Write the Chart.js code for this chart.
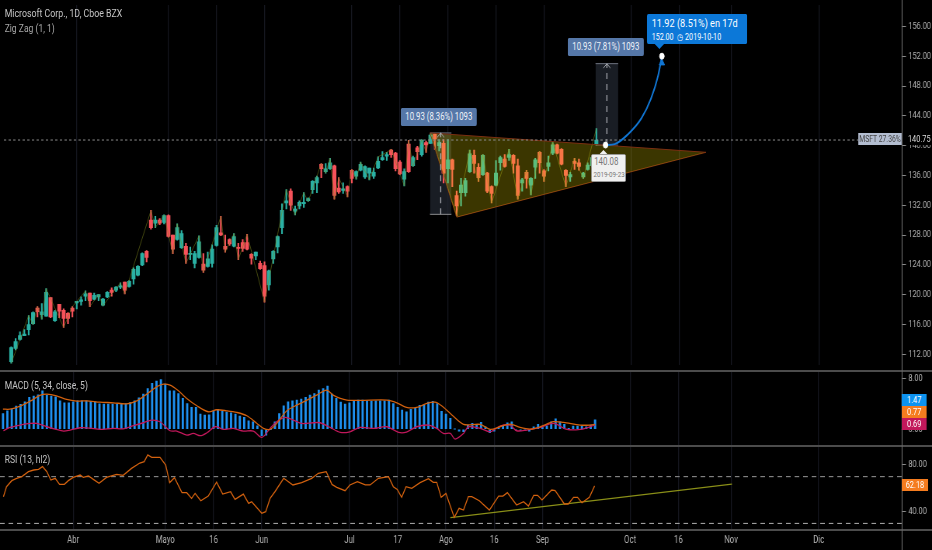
<!DOCTYPE html>
<html>
<head>
<meta charset="utf-8">
<script src="https://cdn.jsdelivr.net/npm/chart.js@4"></script>
<style>
html, body { margin: 0; padding: 0; background: #000; overflow: hidden; }
/* the reference is squeezed sideways, so the whole page is laid out 1200 wide and narrowed to 932 */
#page { position: relative; width: 1200px; height: 550px; background: #000; font-family: Roboto, sans-serif; transform: scaleX(0.7767); transform-origin: 0 0; }
canvas { position: absolute; left: 0; }
.sep { position: absolute; left: 0; width: 1200px; height: 2px; background: #4c4c4c; }
.lbl { position: absolute; white-space: nowrap; }
.legend { left: 6px; color: #c4c4c4; font-size: 11px; line-height: 14px; }
.tip { background: #5577a8; color: #eef2f8; font-size: 10px; line-height: 18px; height: 18px; text-align: center; border-radius: 2px; }
.side { left: 1161px; width: 32px; height: 12px; line-height: 12px; font-size: 9.5px; color: #fff; text-align: center; }
</style>
</head>
<body>
<div id="page">
  <canvas id="price" width="1200" height="370" style="top:0"></canvas>
  <canvas id="macd" width="1200" height="73" style="top:372px"></canvas>
  <canvas id="rsi" width="1200" height="103" style="top:447px"></canvas>
  <div class="sep" style="top:370px"></div>
  <div class="sep" style="top:445px"></div>
  <div class="sep" style="top:529px"></div>
  <div style="position:absolute;left:1161px;top:0;width:1.3px;height:550px;background:#6e6e6e"></div>

  <div class="lbl legend" style="top:7px;font-size:11.3px">Microsoft Corp., 1D, Cboe BZX</div>
  <div class="lbl legend" style="top:22px;color:#a8a8a8">Zig Zag (1, 1)</div>
  <div class="lbl legend" style="top:379px">MACD (5, 34, close, 5)</div>
  <div class="lbl legend" style="top:453px">RSI (13, hl2)</div>

  <div class="lbl tip" style="left:516px;top:108px;width:98px">10.93 (8.36%) 1093</div>
  <div class="lbl tip" style="left:731px;top:38px;width:98px">10.93 (7.81%) 1093</div>

  <div class="lbl" style="left:833px;top:14px;width:129px;height:30px;background:#0c78d8;color:#fff;border-radius:2px">
    <div style="font-size:11.8px;line-height:16px;margin:1px 0 0 6px">11.92 (8.51%) en 17d</div>
    <div style="font-size:9.2px;line-height:12px;margin-left:6px">152.00 &nbsp;◷ 2019-10-10</div>
  </div>
  <div class="lbl" style="left:843px;top:44px;width:0;height:0;border-left:6px solid transparent;border-right:6px solid transparent;border-top:5px solid #0c78d8"></div>

  <div class="lbl" style="left:761px;top:154px;width:43px;height:26px;background:#f0f0f0;border:1px solid #9a9a9a;border-radius:2px;color:#777">
    <div style="font-size:10.2px;line-height:14px;margin-left:3px">140.08</div>
    <div style="font-size:8px;line-height:11px;margin-left:2px">2019-09-23</div>
  </div>
  <div class="lbl" style="left:772px;top:150px;width:0;height:0;border-left:5px solid transparent;border-right:5px solid transparent;border-bottom:4px solid #f0f0f0"></div>

  <div class="lbl" style="left:1105px;top:133px;width:56px;height:12px;line-height:12px;background:#b3bdd0;color:#444;font-size:8.8px;text-align:center">MSFT 27.36%</div>
  <div class="lbl" style="left:1163px;top:133px;width:37px;height:12px;line-height:12px;background:#000;color:#ddd;font-size:9.5px;padding-left:6px;box-sizing:border-box">140.75</div>

  <div class="lbl side" style="top:394px;background:#0d93f0">1.47</div>
  <div class="lbl side" style="top:406px;background:#f57c1f">0.77</div>
  <div class="lbl side" style="top:418px;background:#c2185b">0.69</div>
  <div class="lbl side" style="top:479px;width:34px;background:#f57c1f">62.18</div>
</div>

<script>
// time axis, in bars
const xTickIndex = [16, 37, 48, 59, 79, 90, 101, 112, 123, 143, 154, 166, 186];
const xTickLabels = ['Abr', 'Mayo', '16', 'Jun', 'Jul', '17', 'Ago', '16', 'Sep', 'Oct', '16', 'Nov', 'Dic'];
const xMin = -0.68, xMax = 205;

// candles, first one sits on bar 1
const opens = [111.0,112.8,114.0,114.5,115.3,116.1,118.2,117.3,117.1,119.6,
  116.5,118.7,117.9,117.5,118.2,118.9,119.1,119.8,120.2,119.4,
  119.7,118.6,119.7,120.6,120.6,121.0,121.7,121.1,122.1,122.6,
  124.0,125.8,130.0,129.6,130.0,129.7,130.6,128.0,127.4,126.3,
  126.5,125.4,124.2,125.0,124.1,123.8,124.2,126.6,128.3,126.5,
  127.4,126.5,126.3,127.0,127.0,125.4,125.2,124.2,123.9,121.3,
  124.8,126.4,129.0,132.3,133.9,131.2,131.9,132.2,132.6,134.1,
  135.0,137.5,136.5,136.9,137.3,134.3,134.0,134.5,136.7,135.9,
  136.7,135.8,136.3,135.9,137.0,138.1,138.6,139.4,139.0,137.8,
  135.5,140.2,137.3,139.7,138.8,140.4,140.3,141.5,140.0,140.3,
  136.9,138.1,133.3,133.7,133.7,136.5,138.7,137.1,136.1,136.3,
  134.5,134.7,137.7,138.2,138.4,138.7,137.3,135.0,136.4,134.7,
  137.1,139.1,136.6,137.2,139.0,140.1,139.5,136.7,135.8,137.9,
  137.7,135.8,136.8,137.3,140.2];
const highs = [113.0,114.1,115.0,115.3,117.2,117.7,118.4,118.8,120.8,119.6,
  117.9,118.7,118.1,117.6,118.4,119.1,119.7,120.5,120.2,120.2,
  120.0,119.5,120.4,120.9,121.1,121.6,121.7,121.9,123.6,123.9,
  125.6,125.9,131.3,130.5,130.2,130.7,130.7,128.0,129.5,128.6,
  126.9,126.4,125.8,127.9,125.5,125.7,126.7,129.3,130.5,128.0,
  127.5,128.2,126.9,127.4,128.1,125.5,125.7,124.5,124.4,123.3,
  125.9,127.9,132.2,134.1,134.2,131.9,132.6,133.7,133.0,135.3,
  135.9,137.6,137.6,138.3,137.4,135.7,135.0,134.6,136.8,136.6,
  137.8,137.3,137.0,137.0,138.5,139.2,139.1,139.5,139.1,138.0,
  136.9,140.7,138.6,139.9,140.8,140.6,141.6,141.6,140.8,140.8,
  140.8,138.2,133.9,135.6,135.6,139.4,139.4,137.6,138.8,136.4,
  134.6,138.0,138.6,138.8,139.5,138.8,138.2,135.6,136.7,135.7,
  138.3,139.2,136.8,138.6,140.4,140.2,139.6,136.8,136.4,138.3,
  138.2,136.4,137.7,138.6,142.3];
const lows = [110.8,112.6,113.9,114.5,114.6,116.0,117.0,116.7,117.1,116.9,
  116.4,116.9,115.6,116.1,117.0,118.1,118.6,119.2,118.4,119.3,
  119.2,118.5,119.6,119.8,120.4,120.8,120.1,121.0,121.4,122.5,
  123.9,124.4,128.8,129.0,129.4,129.5,127.7,125.5,127.3,126.2,
  124.2,124.7,123.6,124.9,123.0,123.7,123.7,126.5,127.9,125.7,
  126.6,126.4,124.7,125.8,126.0,124.1,124.7,123.4,119.0,120.6,
  124.2,125.6,128.2,131.5,131.3,130.7,131.5,131.7,132.5,133.6,
  133.7,135.7,136.3,136.8,132.8,133.6,133.6,133.1,135.0,135.5,
  136.6,135.6,135.4,135.6,136.9,138.0,138.0,138.4,136.6,136.1,
  134.6,136.4,137.2,138.1,138.6,139.1,140.3,139.5,139.3,135.0,
  135.0,134.5,130.6,131.9,133.2,136.4,136.3,135.2,136.0,133.7,
  132.3,134.6,136.7,137.1,138.0,136.3,132.8,133.9,134.3,133.4,
  135.6,136.3,135.2,136.6,138.8,138.9,137.4,134.5,135.2,136.8,
  136.7,135.6,136.7,137.1,140.1];
const closes = [112.9,113.7,114.5,114.7,116.0,117.6,117.7,117.7,120.3,117.0,
  117.7,117.8,116.8,116.8,117.8,119.1,119.3,120.1,119.2,119.9,
  120.0,119.4,120.3,120.3,121.0,121.2,120.6,121.8,123.4,123.8,
  125.5,125.0,129.0,130.0,129.6,130.6,127.8,126.1,129.0,128.2,
  125.4,125.5,125.5,127.1,123.3,124.8,126.1,129.0,128.0,126.1,
  126.8,127.8,126.2,126.2,126.1,124.9,125.7,123.5,119.8,123.2,
  125.8,127.8,131.3,132.6,132.0,131.5,132.4,132.4,132.9,135.2,
  135.7,136.9,136.9,137.7,133.3,133.8,134.2,133.9,135.6,136.5,
  137.5,137.2,137.0,136.4,137.9,138.4,138.8,138.8,136.9,136.2,
  136.5,136.5,138.4,139.2,140.7,140.1,141.4,140.9,140.4,136.3,
  138.1,136.8,131.9,134.7,135.3,138.9,137.6,135.7,138.7,133.9,
  133.6,136.3,138.4,137.2,138.8,137.6,133.3,135.4,135.6,135.6,
  138.1,137.7,135.9,137.7,140.1,139.0,137.5,136.0,136.1,137.6,
  137.2,136.3,137.4,138.4,140.75];
const lastPrice = 140.75;
const priceTicks = [156, 152, 148, 144, 140, 136, 132, 128, 124, 120, 116, 112];

// zig zag pivots
const zigBars = [1,5,6,7,8,9,13,15,18,19,21,22,26,27,33,34,36,38,39,41,44,45,49,50,52,53,55,59,64,66,68,69,72,73,74,75,76,78,79,80,81,83,85,87,88,91,92,93,95,96,97,103,106,108,109,111,115,117,119,120,122,123,125,128,130,132,135];
const zigPrices = [110.8,117.2,116.0,118.4,116.7,120.8,115.6,118.4,120.5,118.4,120.0,118.5,121.6,120.1,131.3,129.0,130.7,125.5,129.5,124.2,127.9,123.0,130.5,125.7,128.2,124.7,128.1,119.0,134.1,130.7,133.7,132.5,137.6,136.3,138.3,132.8,135.7,133.1,136.8,135.5,137.8,135.4,138.5,139.1,139.5,134.6,140.7,137.2,140.8,139.1,141.6,130.6,139.4,135.2,138.8,132.3,139.5,132.8,136.7,133.4,139.2,135.2,140.4,134.5,138.3,135.6,142.3];

// drawings on the price pane
const triangleBars = [96.9, 103, 160.1];
const trianglePrices = [141.7, 130.4, 139.1];
const measureA = { from: 96.9, to: 101.8, top: 141.7, bottom: 130.8 };
const measureB = { from: 134.8, to: 140, top: 151, bottom: 140.08 };
const forecastBars = [137.1, 139.2, 142.2, 145.3, 147.5, 149.1, 150];
const forecastPrices = [140.08, 140.2, 141.5, 143.65, 146.3, 149.3, 152];

// MACD pane, histogram starts on bar 0
const macdHist = [2.48,2.90,3.16,3.64,3.90,4.32,5.0,5.2,5.42,6.04,5.36,5.2,5.1,4.47,4.16,4.16,4.32,4.47,4.47,4.47,
  4.37,4.32,4.0,3.95,3.95,3.95,3.95,3.95,4.05,4.21,4.47,4.94,5.52,6.41,7.2,7.56,7.82,7.09,6.04,6.04,
  5.62,4.84,4.05,3.43,3.43,2.38,2.22,2.27,2.9,3.11,2.8,2.69,2.59,2.38,2.07,1.86,1.33,1.18,0.55,-1.02,
  -0.92,-0.03,1.18,2.48,3.69,4.32,4.47,4.58,4.73,5.0,5.36,5.62,6.15,
  6.41,6.78,5.52,4.84,4.26,3.95,4.16,4.37,4.58,4.58,4.47,4.42,4.47,4.47,4.47,4.58,4.05,3.43,3.01,2.75,
  3.11,3.27,3.74,3.85,4.26,4.37,4.05,2.8,2.38,1.7,0.02,-0.29,-0.4,0.65,0.91,0.65,1.07,0.39,-0.55,-0.29,
  0.28,0.49,1.02,1.18,-0.13,-0.19,-0.24,-0.29,0.39,0.76,0.39,0.55,1.18,1.65,1.18,0.76,0.13,0.49,0.49,0.49,0.39,0.65,1.47];
const macdTicks = [8, 0];
const orangeBars = [0,1.6,3.9,6.2,8.4,10,12.2,14.5,16.8,19.1,22.1,25.2,28.2,30.5,32.8,35,36.6,38.1,40,41.9,44.2,46.8,48.7,51,53.3,55.6,57.9,59.4,60.9,62.4,64.7,67,69.3,71.5,
  73.8,75.3,76.9,78.4,81.4,87.5,89.8,92,94.3,96.6,98.5,100,102,105,108.8,111.1,113.3,115.6,117.9,120.2,122.5,125.5,127.8,131.6,133.9,135];
const orangeValues = [3.16,3.16,3.64,4.42,5.31,5.52,5.26,4.68,4.42,4.47,4.26,4.16,4.0,4.47,5.52,6.67,7.09,6.93,6.04,4.84,3.69,2.75,3.06,2.9,2.64,2.12,0.91,0.13,-0.03,0.91,2.9,3.79,4.58,5.36,
  6.15,5.36,4.84,4.58,4.53,4.58,4.16,3.43,3.43,4.05,4.26,3.69,2.48,0.76,0.76,-0.03,0.39,0.81,0.28,0.02,0.39,1.18,1.07,0.65,0.65,0.77];
const crimsonBars = [0.1,1.6,3.9,6.2,7.7,10,11.9,13.8,15.3,17.6,19.8,22.1,25.2,27.4,29.7,32,33.9,35.8,38.1,39.6,41.9,43.4,45,46.5,48.4,50.3,52.5,54.8,57.1,59,60.9,62.4,64.3,66.2,68.1,70.8,
  72.3,74.6,76.9,79.1,81.4,84.5,87.5,90.2,92,94.3,97,98.9,100.4,102,103.1,105,106.1,108.8,111.1,113.3,115.6,117.1,119.4,122.5,125.5,128.6,131.6,133.9,135];
const crimsonValues = [-0.24,0.28,0.65,0.91,0.91,0.39,0.02,-0.29,-0.13,0.23,0.18,-0.03,0.13,0.07,0.55,1.02,1.44,1.18,-0.24,-0.29,-0.92,-0.66,-1.02,-0.55,0.39,-0.03,0.13,-0.29,-0.29,-1.29,0.13,1.18,1.86,1.44,0.91,1.02,
  1.02,0.28,-0.5,-0.4,0.28,0.13,0.39,-0.5,-0.45,0.39,0.65,0.13,-0.66,-0.66,-1.55,-0.66,0.39,0.13,-0.4,0.49,0.65,-0.24,-0.13,0.28,0.91,-0.03,-0.03,0.39,0.69];

// RSI pane
const rsiTicks = [80, 40];
const rsiBars = [0.1,0.8,2,3.1,4.3,5.8,7,8.1,9,10,10.9,11.9,12.9,14,14.9,16,17.6,18.3,19.5,20.6,21.9,23.6,25.9,27.4,29.3,31.2,32.2,33,33.9,35.8,37.1,38,39.1,40.8,41.9,43,43.8,45.1,46.8,48.7,50.1,51.9,52.9,54.8,56,56.7,59,59.9,60.9,62,64,66.1,68.1,70.4,71.9,
  73.7,75,76.1,78,79.1,80.8,82.6,83.7,85.6,87.9,89,89.9,90.9,91.9,93.2,95.1,97,98.1,98.9,99.9,101,102.9,104,105,106.1,106.9,108.6,110.9,113,114,115,117.1,118.7,119.8,121,121.9,122.9,125.1,125.9,128,128.9,130.1,131,132,133.7,134.9];
const rsiValues = [52.9,61.4,66.6,68.6,70,74.3,75.7,76.3,78.6,74.3,67.1,68.6,63.4,63.4,66.6,69.4,71.4,69.4,70.6,67.7,64.3,69.4,72,71.1,77.1,81.7,82.9,88.6,86.6,86.6,80,64.9,69.1,56.3,56.3,51.4,55.7,49.4,53.4,65.4,55.1,57.1,50.6,55.1,47.1,48.6,38.6,40,51.4,57.1,68.6,62.9,64.9,68.6,72.9,
  74.3,63.4,60.9,58,62.9,65.7,62.9,62.9,68.6,70,61.4,59.1,52.3,61.4,60,64.9,68.3,65.1,65.1,52.3,55.7,35.1,42.9,41.4,52.9,52.9,49.4,41.4,53.4,53.4,56.3,45.7,48.6,44.9,54,54,50,58.6,58,46.6,46.6,52.3,52.3,47.7,52.3,62.18];
const rsiTrendBars = [102, 166.2];
const rsiTrendValues = [34.9, 63.7];
const rsiBands = [70, 30];

const UP = '#2ab0a3', DOWN = '#f6525a', GRID = '#15171f', AXIS_TEXT = '#b4b4b4';
const AXIS_FONT = { family: 'Roboto, sans-serif', size: 9.5 };
const X_FONT = { family: 'Roboto, sans-serif', size: 10 };

function pts(xs, ys) { return xs.map((x, i) => ({ x: x, y: ys[i] })); }

function line(xs, ys, color, width, extra) {
  return Object.assign({ type: 'line', data: pts(xs, ys), borderColor: color, borderWidth: width,
    pointRadius: 0, fill: false, tension: 0 }, extra);
}

function xAxis(showLabels) {
  return {
    type: 'linear', min: xMin, max: xMax, offset: false,
    border: { display: false },
    grid: { color: GRID, lineWidth: 1.3, drawTicks: false, offset: false },
    ticks: { display: showLabels, autoSkip: false, maxRotation: 0, color: AXIS_TEXT, font: X_FONT, padding: 5,
      callback: (v, i) => xTickLabels[i] },
    afterBuildTicks: s => { s.ticks = xTickIndex.map(v => ({ value: v })); },
    afterFit: s => { s.height = showLabels ? 21 : 0; s.paddingLeft = 0; s.paddingRight = 0; }
  };
}

function yAxis(min, max, values) {
  return {
    position: 'right', min: min, max: max,
    border: { display: false },
    grid: { drawOnChartArea: false, tickLength: 5, tickColor: '#8a8a8a' },
    ticks: { color: AXIS_TEXT, font: AXIS_FONT, padding: 3, autoSkip: false, callback: v => v.toFixed(2) },
    afterBuildTicks: s => { s.ticks = values.map(v => ({ value: v })); },
    afterFit: s => { s.width = 38.6; s.paddingTop = 0; s.paddingBottom = 0; }
  };
}

function makeChart(id, datasets, scales) {
  return new Chart(document.getElementById(id), {
    type: 'bar',
    data: { datasets: datasets },
    options: {
      responsive: false, animation: false, events: [],
      layout: { padding: 0 },
      plugins: { legend: { display: false }, tooltip: { enabled: false } },
      scales: scales
    }
  });
}

function measureDatasets(m, order, edgeColor) {
  const mid = (m.from + m.to) / 2;
  return [
    line([m.from, m.to], [m.top, m.top], '#6f7480', 1, { order: order, fill: '+1', backgroundColor: 'rgba(35,40,50,0.72)' }),
    line([m.from, m.to], [m.bottom, m.bottom], edgeColor, 1, { order: order }),
    line([mid, mid], [m.bottom, m.top], '#a9acb2', 1.3, { order: 3, borderDash: [6, 5] }),
    line([mid - 0.8, mid, mid + 0.8], [m.top - 0.6, m.top, m.top - 0.6], '#a9acb2', 1, { order: 3 })
  ];
}

const candleBars = opens.map((o, i) => i + 1);
const candleColors = opens.map((o, i) => closes[i] >= o ? UP : DOWN);

makeChart('price', [
  { data: candleBars.map((b, i) => ({ x: b, y: [lows[i], highs[i]] })), backgroundColor: candleColors,
    barThickness: 1.5, grouped: false, order: 12 },
  { data: candleBars.map((b, i) => ({ x: b, y: [opens[i], closes[i]] })), backgroundColor: candleColors,
    barThickness: 4.4, grouped: false, minBarLength: 1, order: 11 },
  line(zigBars, zigPrices, 'rgba(125,135,30,0.55)', 1, { order: 10 }),
  // triangle: upper edge filled down to the two lower edges
  line([triangleBars[0], triangleBars[2]], [trianglePrices[0], trianglePrices[2]], '#7c2f12', 1,
    { order: 5, fill: '+1', backgroundColor: 'rgba(255,235,0,0.23)' }),
  line(triangleBars, trianglePrices, '#7c2f12', 1, { order: 5 }),
  ...measureDatasets(measureA, 20, '#c9c9c9'),
  ...measureDatasets(measureB, 20, '#6f7480'),
  line([xMin, 195], [lastPrice, lastPrice], '#8c8c8c', 1, { order: 4, borderDash: [3, 3] }),
  line(forecastBars, forecastPrices, '#1176d4', 2, { order: 2, cubicInterpolationMode: 'monotone' }),
  line([forecastBars[6]], [forecastPrices[6] - 0.9], '#1176d4', 1,
    { order: 2, showLine: false, pointStyle: 'triangle', pointRadius: 4, pointBackgroundColor: '#1176d4' }),
  line([forecastBars[0], forecastBars[6]], [forecastPrices[0], forecastPrices[6]], '#fff', 1,
    { order: 1, showLine: false, pointRadius: 3, pointBackgroundColor: '#fff' })
], { x: xAxis(false), y: yAxis(110.56, 158.87, priceTicks) });

makeChart('macd', [
  { data: macdHist.map((v, i) => ({ x: i, y: v })), backgroundColor: '#1e90f0', barThickness: 2.2, grouped: false, order: 5 },
  line(crimsonBars, crimsonValues, '#c2185b', 1.3, { order: 2, tension: 0.3 }),
  line(orangeBars, orangeValues, '#d4620f', 1.3, { order: 1, tension: 0.3 })
], { x: xAxis(false), y: yAxis(-2.48, 9, macdTicks) });

makeChart('rsi', [
  line([xMin, xMax], [rsiBands[0], rsiBands[0]], '#9a9a9a', 1, { order: 5, borderDash: [6, 5] }),
  line([xMin, xMax], [rsiBands[1], rsiBands[1]], '#b0b0b0', 1, { order: 5, borderDash: [6, 5] }),
  line(rsiTrendBars, rsiTrendValues, '#8a8f18', 1.3, { order: 3 }),
  line(rsiBars, rsiValues, '#d4620f', 1.3, { order: 1 })
], { x: xAxis(true), y: yAxis(25.2, 95.4, rsiTicks) });
</script>
</body>
</html>
